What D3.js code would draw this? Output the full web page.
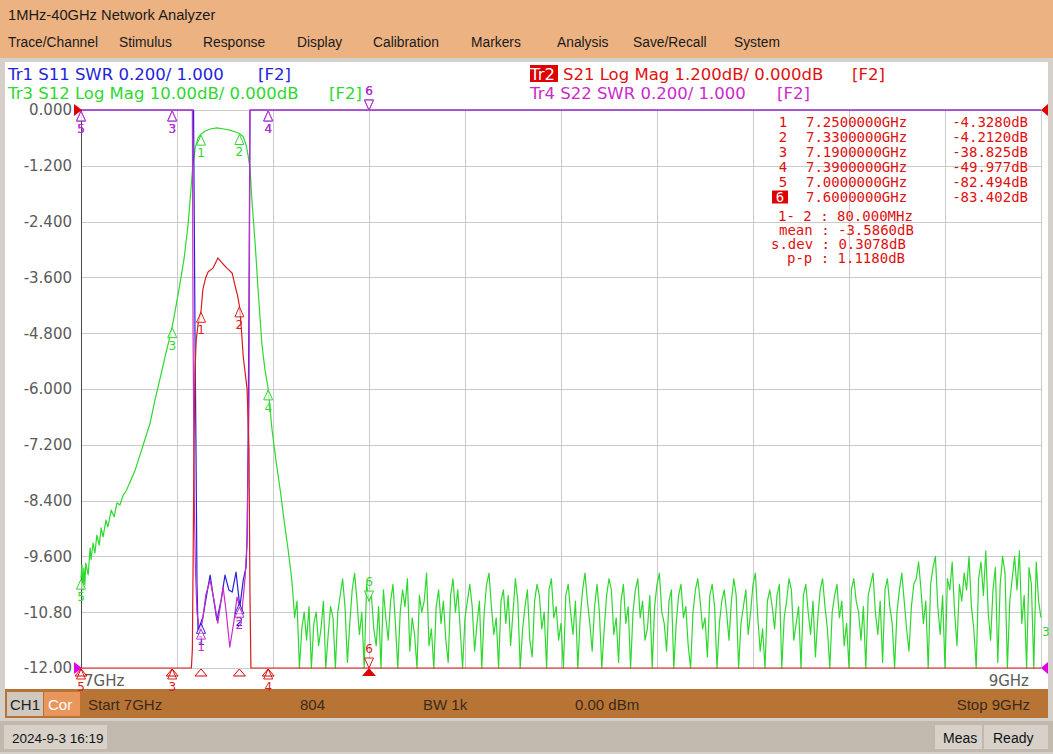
<!DOCTYPE html>
<html><head><meta charset="utf-8">
<script src="https://cdn.jsdelivr.net/npm/d3@7"></script>
<style>body{margin:0;background:#fff;overflow:hidden}svg{display:block}</style>
</head><body>
<svg id="c" width="1053" height="754"></svg>
<script>
// ---------------- DATA ----------------
const titleText = "1MHz-40GHz Network Analyzer";
const menuItems = ["Trace/Channel","Stimulus","Response","Display","Calibration","Markers","Analysis","Save/Recall","System"];
const freqDomain = [7, 9];             // GHz
const yTickValues = [0,-1.2,-2.4,-3.6,-4.8,-6.0,-7.2,-8.4,-9.6,-10.8,-12.0];
const yTickLabels = ["0.000","-1.200","-2.400","-3.600","-4.800","-6.000","-7.200","-8.400","-9.600","-10.80","-12.00"];
const xTickLabels = ["7GHz","9GHz"];

const markerNumbers = [1,2,3,4,5,6];
const markerFreqs = [7.25,7.33,7.19,7.39,7.0,7.6];
const markerFreqLabels = ["7.2500000GHz","7.3300000GHz","7.1900000GHz","7.3900000GHz","7.0000000GHz","7.6000000GHz"];
const markerValueLabels = ["-4.3280dB","-4.2120dB","-38.825dB","-49.977dB","-82.494dB","-83.402dB"];
const activeMarker = 6;
const statsLabels = ["1- 2 : 80.000MHz","mean : -3.5860dB","s.dev : 0.3078dB","p-p : 1.1180dB"];

const statusItems = ["Start 7GHz","804","BW 1k","0.00 dBm","Stop 9GHz"];

// Tr3 S12 Log Mag (dB) - skirt part [GHz, dB]
const s12Skirt = [
 [7.000,-83.9],[7.002,-81.5],[7.004,-86.0],[7.006,-82.1],[7.008,-85.1],[7.010,-81.2],[7.015,-83.3],
 [7.019,-78.5],[7.021,-80.6],[7.025,-77.6],[7.029,-79.4],[7.033,-76.2],[7.038,-78.0],[7.042,-74.9],
 [7.046,-76.5],[7.052,-73.5],[7.056,-74.7],[7.063,-71.7],[7.069,-72.9],[7.075,-70.4],[7.081,-70.8],
 [7.088,-69.0],[7.094,-68.3],[7.102,-66.7],[7.113,-64.5],[7.123,-61.8],[7.133,-59.1],[7.144,-56.1],
 [7.154,-52.0],[7.165,-48.0],[7.175,-44.3],[7.185,-40.7],[7.190,-38.825],[7.198,-35.1],[7.206,-31.2],
 [7.215,-26.5],[7.223,-20.6],[7.229,-14.3],[7.233,-9.9],[7.238,-6.8],[7.244,-5.0],[7.250,-4.33],
 [7.258,-3.8],[7.269,-3.4],[7.283,-3.2],[7.298,-3.4],[7.310,-3.6],[7.321,-3.9],[7.330,-4.21],
 [7.338,-4.8],[7.344,-6.3],[7.348,-8.1],[7.352,-10.4],[7.356,-16.1],[7.363,-24.2],[7.369,-32.3],
 [7.377,-42.1],[7.383,-46.4],[7.390,-49.98],[7.398,-57.3],[7.406,-62.7],[7.415,-68.1],[7.423,-73.5],
 [7.431,-78.5],[7.438,-83.3]
];
// Tr3 S12 stop-band noise (dB), sweep points from 7.44 GHz every 5 MHz
const s12NoiseStart = 7.44, s12NoiseStep = 0.005;
const s12Noise = [
 -85,-91,-88,-101,-93,-90,-95,-89,-104,-92,-90,-96,-93,-88,-100,-94,-89,-91,-105,-90,
 -87,-84,-89,-99,-92,-86,-83,-88,-94,-90,-102,-85,-88,-87,-93,-96,-89,-104,-86,-91,
 -95,-88,-85,-92,-103,-90,-86,-89,-84,-97,-91,-94,-101,-87,-90,-88,-83,-96,-93,-104,
 -89,-86,-92,-88,-95,-99,-87,-84,-90,-86,-93,-105,-91,-88,-85,-89,-97,-92,-88,-101,
 -90,-85,-83,-89,-94,-91,-103,-88,-86,-92,-87,-96,-90,-84,-88,-102,-93,-89,-86,-95,
 -98,-88,-85,-87,-93,-90,-104,-86,-84,-91,-89,-95,-92,-100,-87,-85,-90,-94,-88,-103,
 -91,-86,-83,-88,-92,-97,-89,-85,-90,-105,-93,-87,-84,-86,-94,-91,-99,-88,-85,-92,
 -89,-102,-90,-86,-84,-91,-88,-95,-93,-87,-104,-89,-85,-83,-90,-92,-97,-88,-86,-100,
 -92,-87,-85,-91,-89,-96,-103,-90,-86,-84,-88,-93,-91,-98,-87,-85,-89,-105,-92,-88,
 -86,-90,-95,-88,-84,-87,-101,-92,-89,-86,-94,-90,-85,-83,-91,-97,-93,-104,-88,-86,
 -89,-93,-87,-85,-100,-91,-88,-84,-86,-95,-92,-89,-103,-87,-85,-90,-94,-88,-98,-91,
 -86,-84,-89,-93,-105,-90,-87,-85,-91,-88,-96,-92,-102,-86,-84,-88,-90,-95,-89,-101,
 -87,-85,-83,-90,-94,-88,-99,-86,-84,-89,-92,-104,-90,-86,-83,-88,-93,-97,-89,-85,
 -84,-81,-86,-92,-88,-103,-85,-82,-80,-89,-94,-87,-101,-84,-86,-81,-90,-96,-85,-88,
 -83,-86,-80,-89,-93,-104,-84,-81,-87,-79,-90,-95,-86,-82,-99,-85,-80,-83,-105,-88,
 -84,-80,-86,-79,-92,-87,-103,-82,-85,-101,-81,-88,-91
];
// Tr2 S21 Log Mag [GHz, dB]
const s21 = [
 [7.000,-82.494],[7.100,-64],[7.190,-38.825],[7.225,-19],[7.2300,-13.5],[7.2320,-11.6],[7.2335,-9.8],
 [7.2355,-7.2],[7.2375,-5.6],[7.2400,-4.95],[7.2440,-4.6],[7.2500,-4.328],[7.2540,-3.85],[7.2600,-3.6],
 [7.2650,-3.48],[7.2750,-3.40],[7.2830,-3.23],[7.2850,-3.18],[7.2940,-3.29],[7.3040,-3.40],[7.3150,-3.51],
 [7.3210,-3.78],[7.3260,-3.98],[7.3300,-4.212],[7.3330,-4.55],[7.3380,-5.3],[7.3460,-6.0],[7.3500,-7.3],
 [7.3520,-10.4],[7.3540,-13.5],[7.3600,-24],[7.3900,-49.977],[7.6000,-83.402],[8.300,-90],[9.000,-92]
];
// Tr1 S11 SWR [GHz, SWR]
const s11 = [
 [7.000,20],[7.2330,20],[7.2345,3.4],[7.2360,2.6],[7.2375,2.2],[7.2396,1.78],[7.2417,1.30],[7.2438,1.136],
 [7.2480,1.154],[7.2540,1.183],[7.2600,1.244],[7.2690,1.333],[7.2750,1.262],[7.2830,1.172],[7.2920,1.244],
 [7.3000,1.333],[7.3080,1.280],[7.3150,1.272],[7.3230,1.344],[7.3270,1.280],[7.3310,1.219],[7.3380,1.315],
 [7.3440,1.362],[7.3460,1.459],[7.3480,1.78],[7.3500,2.32],[7.3520,3.6],[7.3540,20],[9.000,20]
];
// Tr4 S22 SWR [GHz, SWR]
const s22 = [
 [7.000,20],[7.2320,20],[7.2335,2.2],[7.2360,1.6],[7.2385,1.35],[7.2417,1.197],[7.2480,1.125],[7.2540,1.179],
 [7.2600,1.262],[7.2690,1.315],[7.2770,1.244],[7.2850,1.161],[7.2960,1.290],[7.3020,1.208],[7.3100,1.075],
 [7.3190,1.172],[7.3250,1.254],[7.3310,1.215],[7.3350,1.197],[7.3420,1.326],[7.3460,1.459],[7.3500,1.96],
 [7.3520,3.6],[7.3535,20],[9.000,20]
];

// ---------------- DRAW ----------------
const svg = d3.select("#c");
const L = 81, R = 1041, T = 110, B = 668;
const fontUI = "'Liberation Sans', Arial, sans-serif";
const fontTr = "'DejaVu Sans', Verdana, sans-serif";
const fontMono = "'DejaVu Sans Mono', monospace";

const x = d3.scaleLinear().domain(freqDomain).range([L, R]);
const yLog21 = d3.scaleLinear().domain([-12, 0]).range([B, T]).clamp(true);
const yLog12 = d3.scaleLinear().domain([-100, 0]).range([B, T]).clamp(true);
const ySwr = d3.scaleLinear().domain([1, 3]).range([B, T]).clamp(true);

const C = {blue:"#2323D8", red:"#D81C1C", green:"#2ED82E", mag:"#CC2ACC", text:"#E01010"};

// window background
svg.append("rect").attr("width",1053).attr("height",754).attr("fill","#D5D1CA");
svg.append("rect").attr("x",0).attr("y",0).attr("width",1053).attr("height",58).attr("fill","#EDB282");
svg.append("rect").attr("x",5).attr("y",62).attr("width",1043).attr("height",627).attr("fill","#ffffff");
svg.append("rect").attr("x",5).attr("y",689).attr("width",1043).attr("height",29).attr("fill","#B87434");
svg.append("rect").attr("x",0).attr("y",721).attr("width",1053).attr("height",31).attr("fill","#C1B9AD");

// title + menu
svg.append("text").attr("x",8).attr("y",20).attr("font-family",fontUI).attr("font-size",14.7)
  .attr("fill","#1a1a1a").text(titleText);
const menuX = [8,119,203,297,373,471,557,633,734];
svg.selectAll("text.menu").data(menuItems).join("text").attr("class","menu")
  .attr("x",(d,i)=>menuX[i]).attr("y",47).attr("font-family",fontUI).attr("font-size",13.8)
  .attr("fill","#1a1a1a").text(d=>d);

// trace headers
function hdr(t,xx,yy,col){ svg.append("text").attr("x",xx).attr("y",yy).attr("font-family",fontTr)
  .attr("font-size",16.5).attr("fill",col).text(t); }
hdr("Tr1 S11 SWR 0.200/ 1.000",8,80,C.blue); hdr("[F2]",258,80,C.blue);
hdr("Tr3 S12 Log Mag 10.00dB/ 0.000dB",8,98.5,C.green); hdr("[F2]",329,98.5,C.green);
svg.append("rect").attr("x",530).attr("y",65).attr("width",28).attr("height",17).attr("fill","#E00000");
hdr("Tr2",530,80,"#ffffff");
hdr("S21 Log Mag 1.200dB/ 0.000dB",563,80,C.text); hdr("[F2]",852,80,C.text);
hdr("Tr4 S22 SWR 0.200/ 1.000",530,98.5,C.mag); hdr("[F2]",777,98.5,C.mag);

// grid
const g = svg.append("g");
const vTicks = d3.range(1,11).map(i=>freqDomain[0]+i*(freqDomain[1]-freqDomain[0])/10);
g.selectAll("line.v").data(vTicks).join("line").attr("class","v")
  .attr("x1",d=>Math.round(x(d))+0.5).attr("x2",d=>Math.round(x(d))+0.5).attr("y1",T).attr("y2",B)
  .attr("stroke","#CBCBCB").attr("stroke-width",1);
g.selectAll("line.h").data(yTickValues).join("line").attr("class","h")
  .attr("x1",L).attr("x2",R).attr("y1",d=>Math.round(yLog21(d))+0.5).attr("y2",d=>Math.round(yLog21(d))+0.5)
  .attr("stroke","#CBCBCB").attr("stroke-width",1);
g.append("line").attr("x1",L+0.5).attr("x2",L+0.5).attr("y1",T).attr("y2",B).attr("stroke","#4a4a4a");

// y axis
const yAxis = d3.axisLeft(yLog21).tickValues(yTickValues).tickFormat((d,i)=>yTickLabels[i]).tickSize(0).tickPadding(9);
const ya = svg.append("g").attr("transform",`translate(${L},0)`).call(yAxis);
ya.select(".domain").remove();
ya.selectAll("text").attr("font-family",fontTr).attr("font-size",15).attr("fill","#5a5a5a");

// x labels
svg.append("text").attr("x",x(freqDomain[0])+3).attr("y",686).attr("font-family",fontTr).attr("font-size",15)
  .attr("fill","#5a5a5a").text(xTickLabels[0]);
svg.append("text").attr("x",x(freqDomain[1])-12).attr("y",686).attr("text-anchor","end").attr("font-family",fontTr)
  .attr("font-size",15).attr("fill","#5a5a5a").text(xTickLabels[1]);

// marker table
const tbl = svg.append("g").attr("font-family",fontMono).attr("font-size",14).attr("fill",C.text);
markerNumbers.forEach((n,i)=>{
  const yy = 126.5 + i*15;
  if (n===activeMarker){
    tbl.append("rect").attr("x",772).attr("y",yy-11).attr("width",16).attr("height",13).attr("fill","#E00000");
    tbl.append("text").attr("x",780).attr("y",yy).attr("text-anchor","middle").attr("fill","#fff").text(n);
  } else {
    tbl.append("text").attr("x",783).attr("y",yy).attr("text-anchor","middle").text(n);
  }
  tbl.append("text").attr("x",806).attr("y",yy).text(markerFreqLabels[i]);
  tbl.append("text").attr("x",1028).attr("y",yy).attr("text-anchor","end").text(markerValueLabels[i]);
});
const statX = [778,779,771,787], statY=[220.5,234.5,248.5,262.5];
statsLabels.forEach((s,i)=>tbl.append("text").attr("x",statX[i]).attr("y",statY[i]).attr("xml:space","preserve").text(s));

// traces
const s12 = s12Skirt.concat(s12Noise.map((v,i)=>[s12NoiseStart+i*s12NoiseStep, v]));
const traces = [
  {data:s12, y:yLog12, col:C.green},
  {data:s11, y:ySwr, col:C.blue},
  {data:s22, y:ySwr, col:C.mag},
  {data:s21, y:yLog21, col:C.red}
];
traces.forEach(t=>{
  const line = d3.line().x(d=>x(d[0])).y(d=>t.y(d[1]));
  svg.append("path").datum(t.data).attr("d",line).attr("fill","none").attr("stroke",t.col)
    .attr("stroke-width",1.2).attr("stroke-linejoin","round");
});

// markers
function valueAt(data,f){
  const i = d3.bisector(d=>d[0]).left(data,f-1e-9);
  if (i<=0) return data[0][1];
  if (i>=data.length) return data[data.length-1][1];
  const a=data[i-1], b=data[i];
  const t=(f-a[0])/(b[0]-a[0]);
  return a[1]+t*(b[1]-a[1]);
}
const mk = svg.append("g").attr("font-family",fontTr).attr("font-size",12);
traces.forEach(t=>{
  markerNumbers.forEach((n,i)=>{
    const mx = x(markerFreqs[i]), my = t.y(valueAt(t.data, markerFreqs[i]));
    if (n===activeMarker){
      mk.append("path").attr("d",`M${mx},${my}L${mx-4.5},${my-10}L${mx+4.5},${my-10}Z`)
        .attr("fill","#fff").attr("fill-opacity",0.6).attr("stroke",t.col).attr("stroke-width",1);
      mk.append("text").attr("x",mx).attr("y",my-15).attr("text-anchor","middle").attr("fill",t.col).text(n);
    } else {
      mk.append("path").attr("d",`M${mx},${my+1}L${mx-4.5},${my+11}L${mx+4.5},${my+11}Z`)
        .attr("fill","#fff").attr("fill-opacity",0.6).attr("stroke",t.col).attr("stroke-width",1);
      mk.append("text").attr("x",mx).attr("y",my+23).attr("text-anchor","middle").attr("fill",t.col).text(n);
    }
  });
});
// stimulus indicators on bottom axis
markerNumbers.forEach((n,i)=>{
  const mx = x(markerFreqs[i]);
  if (n===activeMarker){
    svg.append("path").attr("d",`M${mx},${B}L${mx-7},${B+8}L${mx+7},${B+8}Z`).attr("fill","#E00000");
  } else {
    svg.append("path").attr("d",`M${mx},${B+1}L${mx-6},${B+8}L${mx+6},${B+8}Z`)
      .attr("fill","none").attr("stroke","#E00000").attr("stroke-width",1);
  }
});
// reference position indicators
svg.append("path").attr("d",`M${L-7},${T-6}L${L+1},${T}L${L-7},${T+6}Z`).attr("fill","#E00000");
svg.append("path").attr("d",`M${L-7},${B-6}L${L+1},${B}L${L-7},${B+6}Z`).attr("fill","#E000E0");
svg.append("path").attr("d",`M${R+7},${T-6}L${R},${T}L${R+7},${T+6}Z`).attr("fill","#E00000");
svg.append("path").attr("d",`M${R+7},${B-6}L${R},${B}L${R+7},${B+6}Z`).attr("fill","#E000E0");
svg.append("text").attr("x",R+1).attr("y",B-32).attr("font-family",fontTr).attr("font-size",12)
  .attr("fill",C.green).text("3");

// status bar
svg.append("rect").attr("x",7).attr("y",692).attr("width",36).attr("height",24).attr("fill","#CFC8BE");
svg.append("rect").attr("x",44).attr("y",692).attr("width",36).attr("height",24).attr("fill","#E9965C");
svg.append("text").attr("x",10).attr("y",710).attr("font-family",fontUI).attr("font-size",15).attr("fill","#222").text("CH1");
svg.append("text").attr("x",48).attr("y",710).attr("font-family",fontUI).attr("font-size",15).attr("fill","#fff").text("Cor");
const statusX = [88,300,423,575,1030], statusAnchor=["start","start","start","start","end"];
statusItems.forEach((s,i)=>svg.append("text").attr("x",statusX[i]).attr("y",710).attr("text-anchor",statusAnchor[i])
  .attr("font-family",fontUI).attr("font-size",15).attr("fill","#3a2a1c").text(s));

// bottom bar
svg.append("rect").attr("x",4).attr("y",725).attr("width",103).attr("height",24).attr("fill","#D7D1C9");
svg.append("rect").attr("x",935).attr("y",725).attr("width",47).attr("height",24).attr("fill","#D7D1C9");
svg.append("rect").attr("x",984).attr("y",725).attr("width",64).attr("height",24).attr("fill","#D7D1C9");
svg.append("text").attr("x",12).attr("y",743).attr("font-family",fontUI).attr("font-size",13.5).attr("fill","#111").text("2024-9-3 16:19");
svg.append("text").attr("x",943).attr("y",743).attr("font-family",fontUI).attr("font-size",14).attr("fill","#111").text("Meas");
svg.append("text").attr("x",993).attr("y",743).attr("font-family",fontUI).attr("font-size",14).attr("fill","#111").text("Ready");
</script>
</body></html>
